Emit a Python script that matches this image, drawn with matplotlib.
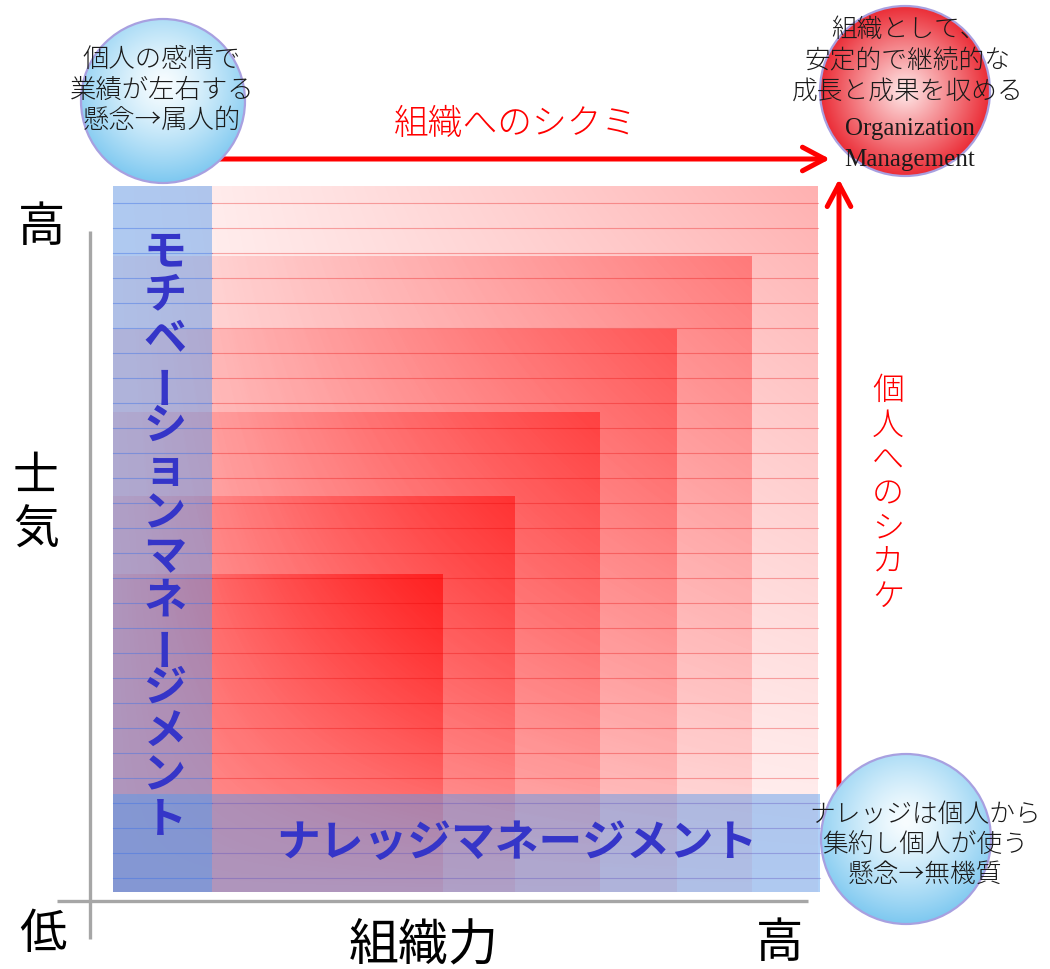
import numpy as np
import matplotlib
matplotlib.use("Agg")
import matplotlib.pyplot as plt
from matplotlib.patches import Rectangle, Circle

plt.rcParams['font.family'] = ['Noto Sans CJK JP', 'DejaVu Sans']

# ---- data (diagram layout values) ----
square_rights = [818, 752, 677, 600, 515, 443]
square_tops = [187, 257, 330, 413, 497, 575]
square_base = [0.05, 0.08, 0.09, 0.10, 0.10, 0.12]
square_strength = [0.26, 0.28, 0.30, 0.33, 0.38, 0.48]
square_left, square_bottom = 113, 893

vertical_label = "モチベーションマネージメント"
horizontal_label = "ナレッジマネージメント"
arrow_top_label = "組織へのシクミ"
arrow_right_label = "個人へのシカケ"
circle_tl_lines = ["個人の感情で", "業績が左右する", "懸念→属人的"]
circle_tr_lines = ["組織として、", "安定的で継続的な", "成長と成果を収める"]
circle_tr_en = ["Organization", "Management"]
circle_br_lines = ["ナレッジは個人から", "集約し個人が使う", "懸念→無機質"]
y_axis_labels = ["高", "士気", "低"]
x_axis_labels = ["組織力", "高"]

fig = plt.figure(figsize=(10.5, 9.7), dpi=100)
ax = fig.add_axes([0, 0, 1, 1])

# ---- nested red gradient squares ----
n = 200
u = np.linspace(0, 1, n)[None, :]
v = np.linspace(1, 0, n)[:, None]
for r, t, b, k in zip(square_rights, square_tops, square_base, square_strength):
    a = b + k * (u * v) ** 1.1
    img = np.zeros((n, n, 4))
    img[..., 0] = 1.0
    img[..., 3] = a
    ax.imshow(img, extent=(square_left, r, square_bottom, t), origin='upper',
              interpolation='bilinear', aspect='auto', zorder=1)

# ---- blue bands ----
blue = (85 / 255, 155 / 255, 238 / 255)
ax.add_patch(Rectangle((113, 187), 99, 706, fc=blue, ec='none', alpha=0.47, zorder=2))
ax.add_patch(Rectangle((113, 795), 707, 98, fc=blue, ec='none', alpha=0.47, zorder=2))

# ---- decorative horizontal lines ----
for y in range(204, 893, 25):
    ax.plot([113, 212], [y, y], color=(0.25, 0.45, 0.9), alpha=0.45, lw=0.8, zorder=3)
    if y < 795:
        ax.plot([212, 818], [y, y], color=(0.9, 0.0, 0.0), alpha=0.3, lw=0.8, zorder=3)
    else:
        ax.plot([212, 820], [y, y], color=(0.35, 0.3, 0.75), alpha=0.35, lw=0.8, zorder=3)

# ---- gray axes ----
ax.plot([90, 90], [232, 940], color='#a6a6a6', lw=2.4, zorder=3, solid_capstyle='butt')
ax.plot([57, 808], [902, 902], color='#a6a6a6', lw=2.4, zorder=3, solid_capstyle='butt')

# ---- band labels ----
lab_color = '#3535c8'
ys = np.linspace(251, 819, len(vertical_label))
for ch, y in zip(vertical_label, ys):
    rot = 90 if ch == 'ー' else 0
    ax.text(165, y, ch, fontsize=31, fontweight='bold', color=lab_color,
            ha='center', va='center', rotation=rot, zorder=4)
ax.text(517, 843, horizontal_label, fontsize=31.5, fontweight='bold', color=lab_color,
        ha='center', va='center', zorder=4)

# ---- red arrows ----
astyle = '->,head_length=16,head_width=8.5'
ax.annotate('', xy=(830, 160), xytext=(218, 160),
            arrowprops=dict(arrowstyle=astyle, color='red', lw=3.6, mutation_scale=1,
                            shrinkA=0, shrinkB=0), zorder=4)
ax.annotate('', xy=(839, 180), xytext=(839, 793),
            arrowprops=dict(arrowstyle=astyle, color='red', lw=3.6, mutation_scale=1,
                            shrinkA=0, shrinkB=0), zorder=4)
ax.text(516, 124, arrow_top_label, fontsize=25, color='red', ha='center', va='center',
        fontweight='light', zorder=4)
ys = np.linspace(391, 597, len(arrow_right_label))
for ch, y in zip(arrow_right_label, ys):
    ax.text(888, y, ch, fontsize=23, color='red', ha='center', va='center',
            fontweight='light', zorder=4)

# ---- axis labels ----
ax.text(42, 228, y_axis_labels[0], fontsize=34, ha='center', va='center', color='black')
ax.text(36, 477, y_axis_labels[1][0], fontsize=33, ha='center', va='center', color='black')
ax.text(36, 530, y_axis_labels[1][1], fontsize=33, ha='center', va='center', color='black')
ax.text(43, 935, y_axis_labels[2], fontsize=34, ha='center', va='center', color='black')
ax.text(424, 945, x_axis_labels[0], fontsize=36, ha='center', va='center', color='black')
ax.text(780, 944, x_axis_labels[1], fontsize=34, ha='center', va='center', color='black')


# ---- gradient circles ----
def grad_circle(cx, cy, r, inner, outer, ox=0.0, oy=-0.2, p=1.3):
    m = 200
    xs = np.linspace(-1, 1, m)
    X, Y = np.meshgrid(xs, xs)
    d = np.sqrt((X - ox) ** 2 + (Y - oy) ** 2) / (1 + np.hypot(ox, oy))
    d = np.clip(d, 0, 1) ** p
    inner = np.array(inner) / 255
    outer = np.array(outer) / 255
    img = inner[None, None, :] * (1 - d[..., None]) + outer[None, None, :] * d[..., None]
    im = ax.imshow(img, extent=(cx - r, cx + r, cy + r, cy - r), origin='upper',
                   interpolation='bilinear', aspect='auto', zorder=5)
    circ = Circle((cx, cy), r, fc='none', ec='#a8a0e0', lw=1.6, zorder=6)
    ax.add_patch(circ)
    im.set_clip_path(circ)


grad_circle(163, 102, 82, (248, 253, 255), (125, 200, 240))
grad_circle(905, 92, 85, (255, 235, 235), (235, 45, 55), oy=0.0, p=1.0)
grad_circle(906, 840, 85, (248, 253, 255), (125, 200, 240))

txt_col = '#1a1a1a'
for line, y in zip(circle_tl_lines, [59, 90, 120]):
    ax.text(162, y, line, fontsize=19, color=txt_col, ha='center', va='center',
            fontweight='light', zorder=7)
for line, y in zip(circle_tr_lines, [30, 61, 91]):
    ax.text(908, y, line, fontsize=18.5, color=txt_col, ha='center', va='center',
            fontweight='light', zorder=7)
for line, y in zip(circle_tr_en, [129, 160]):
    ax.text(910, y, line, fontsize=18, color=txt_col, ha='center', va='center',
            family=['Liberation Serif', 'DejaVu Serif'], zorder=7)
for line, y in zip(circle_br_lines, [815, 845, 875]):
    ax.text(925, y, line, fontsize=18.5, color=txt_col, ha='center', va='center',
            fontweight='light', zorder=7)

ax.set_xlim(0, 1050)
ax.set_ylim(970, 0)
ax.axis('off')
fig.savefig('out.png', dpi=100, facecolor='white')
